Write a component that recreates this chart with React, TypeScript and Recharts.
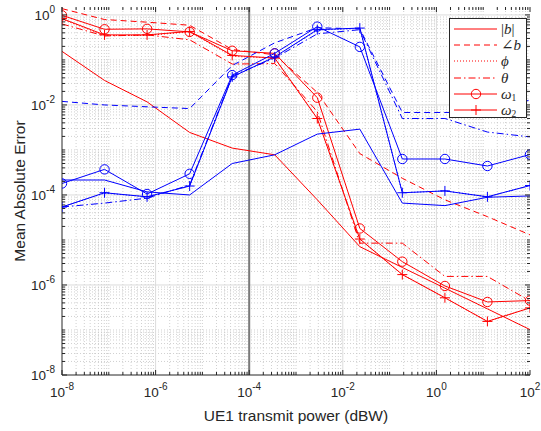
import React from 'react';
import { LineChart, Line, XAxis, YAxis, ReferenceLine, Legend } from 'recharts';

// x positions (UE1 transmit power)
const xValues = [1e-8, 8.11e-8, 6.58e-7, 5.34e-6, 4.33e-5, 3.51e-4, 2.85e-3, 2.31e-2, 0.187, 1.52, 12.3, 100];

// UE1 (red)
const redMag = [0.155, 0.035, 0.0117, 2.45e-3, 1.1e-3, 7.8e-4, 7.8e-5, 7.1e-6, 2.45e-6, 8.5e-7, 2.95e-7, 1.02e-7];
const redAngle = [1.38, 0.79, 0.69, 0.59, 0.17, 0.13, 0.019, 8.3e-4, 2.35e-4, 7.8e-5, 3.3e-5, 1.3e-5];
const redPhi = [0.8, 0.35, 0.35, 0.42, 0.12, 0.11, 5.0e-3, 1.05e-5, 1.7e-6, 5.2e-7, 1.55e-7, 3.1e-7];
const redTheta = [0.63, 0.34, 0.36, 0.28, 0.081, 0.083, 7.1e-3, 8.5e-6, 8.5e-6, 1.55e-6, 1.55e-6, 4.4e-7];
const redOmega1 = [0.98, 0.48, 0.49, 0.42, 0.16, 0.14, 0.0145, 1.8e-5, 3.3e-6, 9.5e-7, 4.2e-7, 4.5e-7];
const redOmega2 = [0.83, 0.36, 0.36, 0.43, 0.126, 0.11, 5.0e-3, 1.05e-5, 1.7e-6, 5.2e-7, 1.55e-7, 3.1e-7];

// second user (blue)
const blueMag = [2.15e-4, 2.15e-4, 1.17e-4, 1.0e-4, 5.0e-4, 7.8e-4, 2.25e-3, 2.9e-3, 6.6e-5, 5.8e-5, 8.9e-5, 9.5e-5];
const blueAngle = [0.012, 0.01, 9.1e-3, 8.3e-3, 0.075, 0.24, 0.52, 0.49, 6.8e-3, 6.8e-3, 7.0e-3, 0.0129];
const bluePhi = [5.4e-5, 1.1e-4, 9.1e-5, 1.58e-4, 0.042, 0.115, 0.46, 0.5, 1.12e-4, 1.23e-4, 9.1e-5, 1.62e-4];
const blueTheta = [5.4e-5, 6.6e-5, 8.5e-5, 1.66e-4, 0.044, 0.11, 0.38, 0.47, 5.0e-3, 5.0e-3, 2.5e-3, 1.95e-3];
const blueOmega1 = [1.8e-4, 3.7e-4, 1.05e-4, 2.95e-4, 0.046, 0.14, 0.55, 0.195, 6.3e-4, 6.3e-4, 4.4e-4, 7.9e-4];
const blueOmega2 = [5.4e-5, 1.12e-4, 9.1e-5, 1.58e-4, 0.042, 0.117, 0.47, 0.51, 1.12e-4, 1.23e-4, 9.1e-5, 1.62e-4];

const xMajor = [1e-8, 1e-6, 1e-4, 1e-2, 1, 100];
const yMajor = [1e-8, 1e-6, 1e-4, 1e-2, 1];

const xLabel = 'UE1 transmit power (dBW)';
const yLabel = 'Mean Absolute Error';

const minorValues = (kFrom: number, kTo: number, majors: number[]) => {
  const out: number[] = [];
  for (let k = kFrom; k <= kTo; k++) {
    for (let m = 1; m <= 9; m++) {
      const v = parseFloat((m * Math.pow(10, k)).toPrecision(3));
      if (!majors.some((M) => Math.abs(Math.log10(M) - Math.log10(v)) < 1e-6)) out.push(v);
    }
  }
  return out;
};
const xMinor = minorValues(-8, 1, xMajor);
const yMinor = minorValues(-8, -1, yMajor);
const xAllTicks = [...xMajor, ...xMinor].sort((a, b) => a - b);
const yAllTicks = [...yMajor, ...yMinor].sort((a, b) => a - b);

const rows = xValues.map((x, i) => ({
  x,
  rMag: redMag[i], rAng: redAngle[i], rPhi: redPhi[i], rTh: redTheta[i], rW1: redOmega1[i], rW2: redOmega2[i],
  bMag: blueMag[i], bAng: blueAngle[i], bPhi: bluePhi[i], bTh: blueTheta[i], bW1: blueOmega1[i], bW2: blueOmega2[i],
}));

const RED = '#ff0000';
const BLUE = '#0000ff';
const AX = '#262626';
const FONT = '"Liberation Sans", Arial, Helvetica, sans-serif';
const PLOT_H = 368;
const PLOT_W = 468;

const DASHED = '6 4';
const DOTTED = '1 2';
const DASHDOT = '7 3 1.5 3';

const isMajor = (v: number, majors: number[]) =>
  majors.some((m) => Math.abs(Math.log10(m) - Math.log10(v)) < 1e-6);
const expOf = (v: number) => Math.round(Math.log10(v));

const BottomTick = (props: any) => {
  const { x, y, payload } = props;
  const major = isMajor(payload.value, xMajor);
  const len = major ? 5 : 3;
  return (
    <g>
      <line x1={x} x2={x} y1={y} y2={y - len} stroke={AX} strokeWidth={1} />
      <line x1={x} x2={x} y1={y - PLOT_H} y2={y - PLOT_H + len} stroke={AX} strokeWidth={1} />
      {major && (
        <text x={x} y={y + 22} textAnchor="middle" fontFamily={FONT} fontSize={13.5} fill={AX}>
          10<tspan dy={-7} fontSize={10}>{String(expOf(payload.value))}</tspan>
        </text>
      )}
    </g>
  );
};

const LeftTick = (props: any) => {
  const { x, y, payload } = props;
  const major = isMajor(payload.value, yMajor);
  const len = major ? 5 : 3;
  return (
    <g>
      <line x1={x} x2={x + len} y1={y} y2={y} stroke={AX} strokeWidth={1} />
      <line x1={x + PLOT_W} x2={x + PLOT_W - len} y1={y} y2={y} stroke={AX} strokeWidth={1} />
      {major && (
        <text x={x - 7} y={y + 5} textAnchor="end" fontFamily={FONT} fontSize={13.5} fill={AX}>
          10<tspan dy={-7} fontSize={10}>{String(expOf(payload.value))}</tspan>
        </text>
      )}
    </g>
  );
};

const XTitle = (props: any) => {
  const vb = props.viewBox || { x: 62, y: 375, width: PLOT_W, height: 56 };
  return (
    <text x={vb.x + vb.width / 2} y={421} textAnchor="middle" fontFamily={FONT} fontSize={15.5} fill={AX}>
      {xLabel}
    </text>
  );
};

const YTitle = (props: any) => {
  const vb = props.viewBox || { x: 0, y: 7, width: 62, height: PLOT_H };
  const cx = 19;
  const cy = vb.y + vb.height / 2;
  return (
    <text x={cx} y={cy} transform={`rotate(-90 ${cx} ${cy})`} textAnchor="middle" dominantBaseline="central"
      fontFamily={FONT} fontSize={15.5} fill={AX}>
      {yLabel}
    </text>
  );
};

const plusDot = (color: string) => (props: any) => {
  const { cx, cy, index } = props;
  if (cx == null || cy == null) return <g key={`p${index}`} />;
  return (
    <path key={`p${index}`} d={`M${cx - 5},${cy}H${cx + 5}M${cx},${cy - 5}V${cy + 5}`}
      stroke={color} strokeWidth={1} fill="none" />
  );
};
const circleDot = (color: string) => ({ r: 4.7, fill: 'none', stroke: color, strokeWidth: 1 });

const legendItems = [
  { label: <><span style={{ fontStyle: 'normal' }}>|</span>b<span style={{ fontStyle: 'normal' }}>|</span></>, dash: undefined as string | undefined, marker: '', sub: '' },
  { label: <><span style={{ fontStyle: 'normal' }}>∠</span>b</>, dash: DASHED, marker: '', sub: '' },
  { label: <>ϕ</>, dash: DOTTED, marker: '', sub: '' },
  { label: <>θ</>, dash: DASHDOT, marker: '', sub: '' },
  { label: <>ω</>, dash: undefined, marker: 'o', sub: '1' },
  { label: <>ω</>, dash: undefined, marker: '+', sub: '2' },
];

const LegendBox = () => (
  <div style={{ position: 'relative', width: 78, height: 100, border: `1px solid ${AX}`, background: '#fff', boxSizing: 'border-box' }}>
    {legendItems.map((it, i) => (
      <div key={i} style={{ position: 'absolute', left: 0, top: 2 + i * 16.2, height: 16, width: 76 }}>
        <svg width={50} height={16} style={{ position: 'absolute', left: 0, top: 0, display: 'block' }}>
          <line x1={4} x2={47} y1={8} y2={8} stroke={RED} strokeWidth={1} strokeDasharray={it.dash} />
          {it.marker === 'o' && <circle cx={26} cy={8} r={4.7} fill="none" stroke={RED} strokeWidth={1} />}
          {it.marker === '+' && <path d="M21,8H31M26,3V13" stroke={RED} strokeWidth={1} fill="none" />}
        </svg>
        <div style={{ position: 'absolute', left: 51, top: 0, height: 16, lineHeight: '16px', fontFamily: '"Liberation Serif", "DejaVu Serif", serif', fontStyle: 'italic', fontSize: 15, color: AX, whiteSpace: 'nowrap' }}>
          {it.label}
          {it.sub && <span style={{ fontSize: 9.5, fontStyle: 'normal', position: 'relative', top: 2, lineHeight: '10px' }}>{it.sub}</span>}
        </div>
      </div>
    ))}
  </div>
);

const series = [
  { key: 'rMag', name: '|b|', color: RED, dash: undefined as string | undefined, marker: '' },
  { key: 'rAng', name: '∠b', color: RED, dash: DASHED, marker: '' },
  { key: 'rPhi', name: 'ϕ', color: RED, dash: DOTTED, marker: '' },
  { key: 'rTh', name: 'θ', color: RED, dash: DASHDOT, marker: '' },
  { key: 'rW1', name: 'ω1', color: RED, dash: undefined, marker: 'o' },
  { key: 'rW2', name: 'ω2', color: RED, dash: undefined, marker: '+' },
  { key: 'bMag', name: '|b| (blue)', color: BLUE, dash: undefined, marker: '' },
  { key: 'bAng', name: '∠b (blue)', color: BLUE, dash: DASHED, marker: '' },
  { key: 'bPhi', name: 'ϕ (blue)', color: BLUE, dash: DOTTED, marker: '' },
  { key: 'bTh', name: 'θ (blue)', color: BLUE, dash: DASHDOT, marker: '' },
  { key: 'bW1', name: 'ω1 (blue)', color: BLUE, dash: undefined, marker: 'o' },
  { key: 'bW2', name: 'ω2 (blue)', color: BLUE, dash: undefined, marker: '+' },
];

const MINOR_GRID = { stroke: '#c4c4c4', strokeWidth: 0.8, strokeDasharray: '1 2' };
const MAJOR_GRID = { stroke: '#dcdcdc', strokeWidth: 1 };

export default function App() {
  return (
    <div style={{ position: 'absolute', left: 0, top: 0, width: 541, height: 431, background: '#fff' }}>
      <LineChart width={541} height={431} data={rows} margin={{ top: 7, right: 11, bottom: 0, left: 0 }}>
        <XAxis dataKey="x" type="number" scale="log" domain={[1e-8, 100]} allowDataOverflow
          ticks={xAllTicks} interval={0} tickSize={0} tickMargin={0} tick={<BottomTick />}
          axisLine={{ stroke: AX }} height={56} label={<XTitle />} />
        <XAxis xAxisId="top" dataKey="x" type="number" scale="log" domain={[1e-8, 100]} allowDataOverflow
          orientation="top" tick={false} tickLine={false}
          axisLine={{ stroke: AX }} height={0} />
        <YAxis type="number" scale="log" domain={[1e-8, 1.5]} allowDataOverflow
          ticks={yAllTicks} interval={0} tickSize={0} tickMargin={0} tick={<LeftTick />}
          axisLine={{ stroke: AX }} width={62} label={<YTitle />} />
        <YAxis yAxisId="right" orientation="right" type="number" scale="log" domain={[1e-8, 1.5]} allowDataOverflow
          tick={false} tickLine={false} axisLine={{ stroke: AX }} width={0} />
        {xMinor.map((v) => <ReferenceLine key={`gx${v}`} x={v} {...MINOR_GRID} />)}
        {yMinor.map((v) => <ReferenceLine key={`gy${v}`} y={v} {...MINOR_GRID} />)}
        {xMajor.slice(1, -1).map((v) => <ReferenceLine key={`Gx${v}`} x={v} {...MAJOR_GRID} />)}
        {yMajor.slice(1).map((v) => <ReferenceLine key={`Gy${v}`} y={v} {...MAJOR_GRID} />)}
        <ReferenceLine x={1e-4} stroke="#7a7a7a" strokeWidth={2} />
        {series.map((s) => (
          <Line key={s.key} dataKey={s.key} name={s.name} type="linear" stroke={s.color} strokeWidth={1}
            strokeDasharray={s.dash} isAnimationActive={false}
            dot={s.marker === 'o' ? circleDot(s.color) : s.marker === '+' ? plusDot(s.color) : false}
            activeDot={false} />
        ))}
        <Legend layout="vertical" align="center" verticalAlign="middle"
          wrapperStyle={{ left: 449, top: 18, width: 78, height: 104 }}
          content={() => <LegendBox />} />
      </LineChart>
    </div>
  );
}
